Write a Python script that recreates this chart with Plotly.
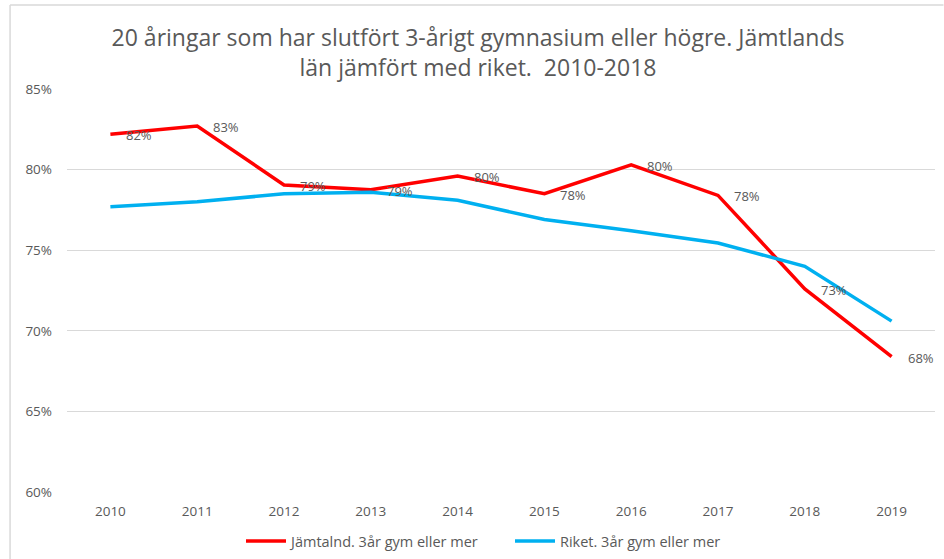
import plotly.graph_objects as go

years = ["2010", "2011", "2012", "2013", "2014", "2015", "2016", "2017", "2018", "2019"]
jamtland = [82.2, 82.7, 79.05, 78.75, 79.6, 78.5, 80.3, 78.4, 72.6, 68.4]
riket = [77.7, 78.0, 78.5, 78.6, 78.1, 76.9, 76.2, 75.45, 74.0, 70.6]
jamtland_labels = ["82%", "83%", "79%", "79%", "80%", "78%", "80%", "78%", "73%", "68%"]
y_ticks = [60, 65, 70, 75, 80, 85]
y_tick_text = ["60%", "65%", "70%", "75%", "80%", "85%"]

FONT = "Open Sans, sans-serif"
GRAY = "#595959"

fig = go.Figure()
fig.add_trace(go.Scatter(
    x=years, y=jamtland, mode="lines", name="Jämtalnd. 3år gym eller mer",
    line=dict(color="#FF0000", width=3.5),
))
fig.add_trace(go.Scatter(
    x=years, y=riket, mode="lines", name="Riket. 3år gym eller mer",
    line=dict(color="#00B0F0", width=3.5),
))

for i, (val, lab) in enumerate(zip(jamtland, jamtland_labels)):
    fig.add_annotation(x=i, y=val, text=lab, showarrow=False, xanchor="left", yanchor="middle",
                       xshift=14, yshift=-1, font=dict(family=FONT, size=13, color=GRAY))

W, H = 944, 559
L, R, T, B = 66.5, 8.5, 89, 67
pw, ph = W - L - R, H - T - B

def px(x):
    return (x - L) / pw

def py(y):
    return (H - B - y) / ph

fig.add_shape(type="line", xref="paper", yref="paper", x0=px(9.5), x1=px(944), y0=py(5), y1=py(5),
              line=dict(color="#D9D9D9", width=1.5))
fig.add_shape(type="line", xref="paper", yref="paper", x0=px(9.5), x1=px(9.5), y0=py(5), y1=py(560),
              line=dict(color="#D9D9D9", width=1.5))

fig.update_layout(
    width=W, height=H,
    margin=dict(l=L, r=R, t=T, b=B, autoexpand=False),
    paper_bgcolor="white", plot_bgcolor="white",
    title=dict(
        text="20 åringar som har slutfört 3-årigt gymnasium eller högre. Jämtlands<br>län jämfört med riket.  2010-2018",
        xref="container", yref="container",
        x=478 / W, xanchor="center", y=1 - 46 / H, yanchor="middle",
        font=dict(family=FONT, size=23, color=GRAY),
    ),
    xaxis=dict(
        type="category", range=[-0.5, len(years) - 0.5], automargin=False,
        showgrid=False, zeroline=False, showline=False,
        tickfont=dict(family=FONT, size=13.5, color=GRAY),
        ticks="", ticklabelstandoff=9,
    ),
    yaxis=dict(
        range=[60, 85], tickvals=y_ticks, ticktext=y_tick_text, automargin=False,
        showgrid=True, gridcolor="#D9D9D9", gridwidth=1, zeroline=False, showline=False,
        tickfont=dict(family=FONT, size=13.5, color=GRAY),
        ticks="", ticklabelstandoff=14,
    ),
    legend=dict(
        orientation="h", xref="container", yref="container",
        x=241 / W, xanchor="left", y=1 - 541 / H, yanchor="middle",
        font=dict(family=FONT, size=14.5, color=GRAY),
        itemwidth=40, tracegroupgap=0,
        entrywidth=214, entrywidthmode="pixels",
    ),
    showlegend=True,
)

fig.write_html("out.html", config={"displayModeBar": False},
               post_script="document.body.style.margin='0';document.body.style.overflow='hidden';")
